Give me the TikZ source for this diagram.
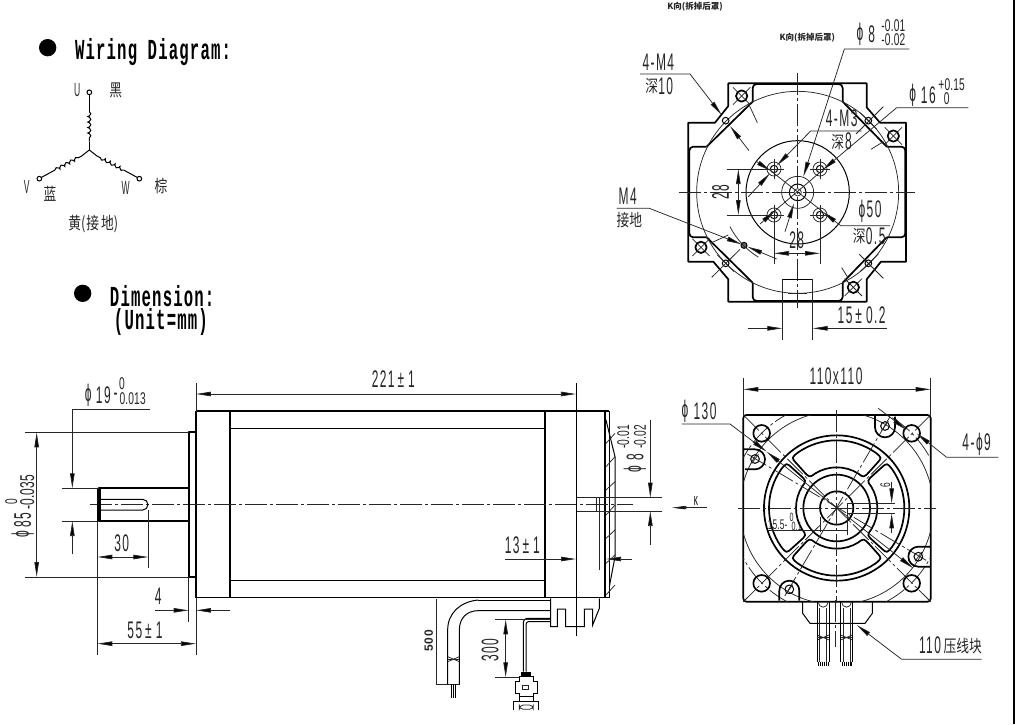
\documentclass[tikz,border=0pt]{standalone}
\usepackage{fontspec}
\usetikzlibrary{arrows.meta,decorations.pathmorphing}
\newfontfamily\cadf[FakeStretch=0.5,LetterSpace=6]{Liberation Sans}
\newfontfamily\cadn[FakeStretch=0.45,LetterSpace=4]{Liberation Sans}
\newfontfamily\cadt[FakeStretch=0.6,LetterSpace=1]{Liberation Sans}
\newfontfamily\cadb[LetterSpace=4]{Liberation Sans}
\newfontfamily\titlef[FakeStretch=0.54,LetterSpace=4]{Liberation Mono}
\newfontfamily\cjkf[FakeStretch=0.75]{Noto Sans CJK SC}
\newfontfamily\cjkw{Noto Sans CJK SC}
\newcount\lblc
\newcommand\lbl[4][]{\global\advance\lblc by 1\relax\node (lbl\the\lblc) [txt,#1] at (#2,#3) {#4};}
\newcommand\phisym{ϕ}
\tikzset{
 z/.style 2 args={shift={(#1,#2)},x=0.33333pt,y=-0.33333pt},
 txt/.style={inner sep=0pt,outer sep=0pt,text=black!85,font=\cadf\fontsize{24}{24}\selectfont},
 tM/.style={font=\cadt\fontsize{17}{17}\selectfont},
 tS/.style={font=\cadn\fontsize{19}{19}\selectfont},
 tXS/.style={font=\cadt\fontsize{14}{14}\selectfont},
 tK/.style={font=\cadn\fontsize{13}{13}\selectfont},
 tKS/.style={font=\cadt\fontsize{12}{12}\selectfont},
 tC/.style={font=\cjkf\fontsize{17}{17}\selectfont},
 tCS/.style={font=\cjkw\bfseries\fontsize{8.5}{8.5}\selectfont},
 tT/.style={anchor=west,text=black,font=\titlef\bfseries\fontsize{29}{29}\selectfont},
 bold/.style={draw=black,line width=1.7pt,line join=round},
 med/.style={draw=black,line width=1pt},
 thin0/.style={draw=black!85,line width=0.75pt},
 cen/.style={draw=black!85,line width=0.75pt,dash pattern=on 22pt off 3pt on 3pt off 3pt},
 tip/.style={draw=black!85,line width=0.75pt,-{Triangle[length=15pt,width=4.5pt,fill=black]}},
}
\begin{document}
\begin{tikzpicture}[x=1pt,y=-1pt]
\useasboundingbox (0,0) rectangle (1015,724);
\draw[line width=1.5pt] (1014,0)--(1014,724);
%% ---------- wiring
\begin{scope}[z={0}{0}]
 \fill[black] (143,143) circle[radius=26];
 \fill[black] (248,880) circle[radius=26];
 \lbl[tT]{225}{155}{Wiring Diagram:}
 \lbl[tT]{330}{888}{Dimension:}
 \lbl[tT]{342}{965}{(Unit=mm)}
 \coordinate (ctr) at (268,450);
 \coordinate (uT) at (268,277);
 \coordinate (vT) at (118,536);
 \coordinate (wT) at (418,536);
 \draw[med] (268,283)--(268,335);
 \draw[med,decorate,decoration={coil,aspect=0.5,segment length=5.5pt,amplitude=1.5pt}] (268,335)--(268,425);
 \draw[med] (268,425)--(ctr);
 \draw[med] (123,533)--(165,510);
 \draw[med,decorate,decoration={coil,aspect=0.5,segment length=5.5pt,amplitude=1.5pt}] (165,510)--(245,468);
 \draw[med] (245,468)--(ctr);
 \draw[med] (413,533)--(371,510);
 \draw[med,decorate,decoration={coil,aspect=0.5,segment length=5.5pt,amplitude=1.5pt}] (371,510)--(291,468);
 \draw[med] (291,468)--(ctr);
 \draw[med,fill=white] (uT) circle[radius=7];
 \draw[med,fill=white] (vT) circle[radius=7];
 \draw[med,fill=white] (wT) circle[radius=7];
 \lbl[tS]{232}{270}{U}
 \lbl[tC]{347}{272}{黑}
 \lbl[tS]{80}{562}{V}
 \lbl[tC]{150}{582}{蓝}
 \lbl[tS]{377}{565}{W}
 \lbl[tC]{483}{558}{棕}
 \lbl[tC]{280}{672}{黄(\kern1pt 接\kern2pt 地)}
\end{scope}
%% ---------- K view
\begin{scope}[z={600}{0}]
 \lbl[tCS]{285}{20}{K向(拆掉后罩)}
 \lbl[tCS]{622}{114}{K向(拆掉后罩)}
 % outlines
 \draw[bold] (385,318)--(385,250)--(800,250)--(800,322)--(840,368)--(918,368)--(918,785)--(843,785)--(800,838)--(800,905)--(385,905)--(385,838)--(340,785)--(265,785)--(265,368)--(345,368)--cycle;
 \draw[bold,rounded corners=4pt] (458,305)--(458,252)--(728,252)--(728,305);
 \draw[bold] (458,305)--(320,440);
 \draw[bold] (728,305)--(860,440);
 \draw[bold,rounded corners=4pt] (320,440)--(268,440)--(268,712)--(320,712);
 \draw[bold,rounded corners=4pt] (860,440)--(916,440)--(916,712)--(860,712);
 \draw[bold] (320,712)--(458,848);
 \draw[bold] (860,712)--(728,848);
 \draw[bold,rounded corners=4pt] (458,848)--(458,903)--(728,903)--(728,848);
 \draw[thin0] (593,577) circle[radius=303];
 \draw[med] (593,577) circle[radius=155];
 \draw[thin0] (593,577) circle[radius=48];
 \draw[med] (593,577) circle[radius=25];
 \draw[thin0] (593,577) circle[radius=11];
 % centre lines
 \draw[cen] (238,577)--(945,577);
 \draw[cen] (593,218)--(593,925);
 % small holes
 \foreach \hx/\hy in {522/507,660/507,522/645,660/645}{
  \draw[med] (\hx,\hy) circle[radius=11];
  \draw[thin0] (\hx,\hy) circle[radius=21];
  \draw[thin0] (\hx-30,\hy)--(\hx+30,\hy);
  \draw[thin0] (\hx,\hy-30)--(\hx,\hy+30);
 }
 % M4 holes
 \foreach \hx/\hy in {377/362,805/362,377/790,805/790}{
  \draw[med] (\hx,\hy) circle[radius=10];
 }
 \fill[black!60,draw=black,line width=1pt] (432,736) circle[radius=9];
 \draw[thin0] (390,680) arc[start angle=153,end angle=121,radius=227];
 % large holes
 \foreach \hx/\hy in {425/288,880/408,303/742,760/862}{
  \draw[bold] (\hx,\hy) circle[radius=17];
  \draw[thin0] (\hx-26,\hy+26)--(\hx+26,\hy-26);
  \draw[thin0] (\hx-26,\hy-26)--(\hx+26,\hy+26);
 }
 % ticks
 \draw[thin0] (335,832)--(420,748);
 \draw[thin0] (352,765)--(402,815);
 \draw[thin0] (778,763)--(850,835);
 \draw[thin0] (780,815)--(835,762);
 \draw[thin0] (768,402)--(850,320);
 \draw[thin0] (780,338)--(830,388);
 \draw[thin0] (445,310)--(472,368);
 \draw[thin0] (813,448)--(850,425);
 \draw[thin0] (725,803)--(745,835);
 \draw[thin0] (335,728)--(385,705);
 % keyway
 \draw[med] (547,890)--(547,838)--(638,838)--(638,890);
 \draw[thin0] (547,838)--(547,1020);
 \draw[thin0] (638,838)--(638,1020);
 \draw[thin0] (565,880)--(620,880);
 % phi8
 \draw[tip] (928,147)--(733,147)--(610,530);
 \draw[tip] (555,695)--(582,610);
 % 4-M4
 \draw[tip] (120,222)--(270,222)--(365,345);
 \draw[tip] (447,452)--(390,378);
 % 4-M3
 \draw[tip] (785,393)--(632,393)--(530,497);
 \draw[tip] (445,590)--(510,520);
 % phi16
 \draw[tip] (1105,323)--(890,323)--(668,510);
 \draw[tip] (480,672)--(525,632);
 \draw[thin0] (525,632)--(660,517);
 % phi50
 \draw[tip] (870,677)--(722,677)--(668,635);
 \draw[tip] (470,485)--(513,513);
 \draw[thin0] (513,513)--(668,635);
 % M4 ground
 \draw[tip] (50,625)--(148,625)--(425,733);
 \draw[tip] (530,777)--(442,740);
 % 28
 \draw[thin0] (380,507)--(522,507);
 \draw[thin0] (380,645)--(522,645);
 \draw[tip] (415,577)--(415,507);
 \draw[tip] (415,577)--(415,645);
 \draw[thin0] (522,645)--(522,793);
 \draw[thin0] (660,645)--(660,793);
 \draw[tip] (592,760)--(522,760);
 \draw[tip] (592,760)--(660,760);
 % 15
 \draw[tip] (445,985)--(547,985);
 \draw[tip] (860,985)--(638,985);
 % texts
 \lbl{780}{104}{\phisym}
 \lbl{815}{104}{8}
 \lbl[tM]{880}{76}{-0.01}
 \lbl[tM]{880}{119}{-0.02}
 \lbl{175}{186}{4-M4}
 \lbl[tC]{155}{258}{深}
 \lbl{197}{258}{10}
 \lbl{725}{356}{4-M3}
 \lbl[tC]{713}{425}{深}
 \lbl{745}{425}{8}
 \lbl{938}{285}{\phisym}
 \lbl{985}{285}{16}
 \lbl[tM]{1055}{253}{+0.15}
 \lbl[tM]{1040}{296}{0}
 \lbl{83}{588}{M4}
 \lbl[tC]{88}{660}{接地}
 \lbl[rotate=90]{362}{577}{28}
 \lbl{590}{720}{28}
 \lbl{810}{635}{\phisym 50}
 \lbl[tC]{778}{708}{深}
 \lbl{827}{708}{0.5}
 \lbl{785}{945}{15\kern3pt±\kern4pt 0.2}
\end{scope}
%% ---------- front view
\begin{scope}[z={660}{350}]
 \draw[bold,rounded corners=3pt] (250,195) rectangle (812,755);
 \begin{scope}
  \clip (250,195) rectangle (812,755);
  \draw[thin0] (530,474) circle[radius=290];
  \draw[cen] (530,474) circle[radius=318];
 \end{scope}
 % rings
 \draw[bold] (530,474) circle[radius=218];
 \draw[bold] (530,474) circle[radius=100];
 \draw[bold] (530,474) circle[radius=50];
 % windows
 \begin{scope}[shift={(530,474)}]
 \foreach \r in {0,90,180,270}{
  \begin{scope}[rotate=\r]
  \draw[bold]
   (55:203) arc[start angle=55,end angle=125,radius=203]
   .. controls (132:203) .. (132:180)
   -- (132:150) .. controls (132:122) .. (122:122)
   arc[start angle=122,end angle=58,radius=122]
   .. controls (48:122) .. (48:150)
   -- (48:180) .. controls (48:203) .. cycle;
  \end{scope}
 }
 \end{scope}
 % diagonal and other centre lines
 \draw[cen] (250,195)--(812,755);
 \draw[cen] (812,195)--(250,755);
 \draw[cen] (235,474)--(828,474);
 \draw[cen] (530,180)--(530,760);
 \draw[cen] (262,312)--(800,632);
 \draw[cen] (690,200)--(372,742);
 % holes
 \foreach \hx/\hy in {305/250,755/250,305/700,755/700}{
  \draw[bold,fill=none] (\hx,\hy) circle[radius=25];
 }
 % bosses
 \draw[bold] (645,198)--(645,232) arc[start angle=180,end angle=0,radius=30] -- (705,200);
 \draw[bold] (252,298)--(285,298) arc[start angle=-90,end angle=90,radius=30] -- (255,358);
 \draw[bold] (358,752)--(358,722) arc[start angle=180,end angle=360,radius=30] -- (418,752);
 \draw[bold] (810,590)--(775,590) arc[start angle=270,end angle=90,radius=30] -- (810,650);
 \foreach \hx/\hy in {675/228,285/327,775/620,388/718}{
  \draw[med] (\hx,\hy) circle[radius=13];
  \draw[thin0] (\hx-10,\hy+14)--(\hx+10,\hy-14);
 }
 % key
 \draw[thin0] (562,460)--(705,460);
 \draw[thin0] (562,460)--(562,555);
 \draw[thin0] (565,490)--(705,490);
 \draw[thin0] (482,500)--(482,545);
 \draw[thin0] (325,540)--(562,540);
 \draw[tip] (695,395)--(695,460);
 \draw[tip] (695,550)--(695,490);
 \lbl[tXS,rotate=90]{676}{405}{6}
 \lbl[tXS]{353}{523}{15.5-}
 \lbl[tKS]{395}{503}{0}
 \lbl[tKS]{410}{530}{0.1}
 % dims
 \draw[thin0] (250,85)--(250,195);
 \draw[thin0] (812,85)--(812,195);
 \draw[tip] (530,118)--(250,118);
 \draw[tip] (530,118)--(812,118);
 \lbl{528}{80}{110x110}
 \lbl{75}{183}{\phisym}
 \lbl{135}{183}{130}
 \draw[tip] (65,222)--(210,222)--(320,305);
 \draw[tip] (530,474)--(320,305);
 \draw[tip] (530,474)--(760,655);
 \lbl{950}{283}{4-\phisym 9}
 \draw[tip] (1015,322)--(860,322)--(770,250);
 \draw[tip] (655,175)--(740,240);
 \lbl{810}{885}{110}
 \lbl[tC]{908}{887}{压线块}
 \draw[tip] (965,928)--(725,928)--(590,825);
 % K arrow
 \draw[tip,-{Triangle[length=13pt,width=3pt,fill=black]}] (140,473)--(40,473);
 \lbl[tK]{108}{452}{K}
 % wire block
 \draw[med] (428,755)--(428,790)--(450,820)--(615,820)--(637,790)--(637,755);
 \draw[cen] (527,750)--(527,890);
 \foreach \cx in {472,542}{
  \draw[med] (\cx,757)--(\cx,935);
  \draw[med] (\cx+35,757)--(\cx+35,935);
  \draw[thin0] (\cx+7,775)--(\cx+7,935);
  \draw[thin0] (\cx+28,775)--(\cx+28,935);
  \draw[thin0] (\cx+3,757) arc[start angle=180,end angle=0,radius=14.5];
  \draw[thin0] (\cx,855)--(\cx+35,870);
  \draw[thin0] (\cx+35,855)--(\cx,870);
  \draw[thin0] (\cx,862)--(\cx+35,862);
  \foreach \w in {4,10,16,22,28,32}{\draw[med] (\cx+\w,935)--(\cx+\w,948);}
 }
\end{scope}
%% ---------- side view body
\draw[bold] (196,411)--(609,411);
\draw[bold] (196,597.5)--(609,597.5);
\draw[bold] (196,411)--(196,597.5);
\draw[bold] (230,411)--(230,597.5);
\draw[bold] (545,411)--(545,597.5);
\draw[bold] (605,411)--(605,597.5);
\draw[bold] (230,428.5)--(545,428.5);
\draw[bold] (230,580.5)--(545,580.5);
\draw[cen] (90,504.7)--(633,504.7);
\begin{scope}[z={0}{350}]
 % pilot, shaft
 \draw[bold] (588,247)--(566,247)--(566,681)--(588,681);
 \draw[bold] (566,415)--(297,415)--(297,513)--(566,513);
 \fill[black] (292,415) rectangle (302,513);
 \draw[med] (298,448)--(428,448) arc[start angle=-90,end angle=90,radius=16] -- (298,480);
 % phi85
 \draw[thin0] (75,247)--(566,247);
 \draw[thin0] (75,681)--(566,681);
 \draw[tip] (110,464)--(110,247);
 \draw[tip] (110,464)--(110,681);
 \lbl[rotate=90]{68}{553}{\phisym}
 \lbl[rotate=90]{68}{510}{85}
 \lbl[tM,rotate=90]{34}{455}{0}
 \lbl[tM,rotate=90,font=\cadt\fontsize{20}{20}\selectfont]{82}{427}{-0.035}
 % phi19
 \draw[tip] (450,178)--(217,178)--(217,415);
 \draw[tip] (217,612)--(217,513);
 \draw[thin0] (185,415)--(297,415);
 \draw[thin0] (185,513)--(297,513);
 \lbl{265}{135}{\phisym}
 \lbl{310}{135}{19}
 \lbl{347}{140}{-}
 \lbl[tM]{366}{102}{0}
 \lbl[tM]{398}{147}{0.013}
 % 30
 \draw[thin0] (292,513)--(292,915);
 \draw[thin0] (445,480)--(445,655);
 \draw[tip] (368,621)--(292,621);
 \draw[tip] (368,621)--(445,621);
 \lbl{365}{580}{30}
 % 4
 \draw[thin0] (566,681)--(566,815);
 \draw[thin0] (588,745)--(588,915);
 \draw[tip] (465,781)--(566,781);
 \draw[tip] (690,781)--(588,781);
 \lbl{475}{740}{4}
 % 55
 \draw[tip] (440,881)--(292,881);
 \draw[tip] (440,881)--(588,881);
 \lbl{435}{840}{55\kern3pt±\kern4pt 1}
 % 221
 \draw[thin0] (588,100)--(588,185);
 \draw[tip] (1180,132)--(588,132);
 \draw[tip] (1180,132)--(1728,132);
 \lbl{1180}{88}{221\kern3pt±\kern4pt 1}
\end{scope}
\begin{scope}[z={400}{400}]
 \draw[med] (528,-50)--(528,708);
 % rear cover
 \draw[med] (615,33)--(628,33)--(628,592)--(615,592);
 \draw[med] (618,60)--(645,170)--(645,470)--(628,560);
 \foreach \ya/\yb in {130/100,200/170,270/245,345/315,415/390,490/465,585/555}{
  \draw[thin0] (618,\ya)--(645,\yb);
 }
 \draw[thin0] (530,293)--(785,293);
 \draw[thin0] (530,333)--(785,333);
 \draw[thin0] (597,293)--(597,510);
 \draw[thin0] (590,293)--(590,333);
 % phi8
 \draw[tip] (751,60)--(751,293);
 \draw[tip] (751,435)--(751,333);
 \lbl[rotate=90]{705}{208}{\phisym}
 \lbl[rotate=90]{705}{170}{8}
 \lbl[tM,rotate=90]{670}{110}{-0.01}
 \lbl[tM,rotate=90]{720}{110}{-0.02}
 % K
 \draw[tip,-{Triangle[length=13pt,width=3pt,fill=black]}] (880,323)--(815,323);
 \lbl[tK]{888}{302}{K}
 % 13
 \lbl{367}{437}{13\kern3pt±\kern4pt 1}
 \draw[tip] (315,477)--(528,477);
 \draw[tip] (695,477)--(618,477);
 % block
 \draw[med] (452,595)--(452,680)--(472,680)--(472,627)--(497,627)--(497,680)--(553,680)--(553,627)--(578,627)--(578,675)--(598,625)--(598,595);
 % cable 500
 \draw[thin0] (108,598)--(108,853)--(180,853);
 \draw[med] (450,600)--(235,600);
 \draw[med] (235,600) .. controls (180,605) and (143,640) .. (143,690)--(143,853);
 \draw[med] (450,632)--(235,632) .. controls (200,632) and (178,655) .. (178,690)--(178,853);
 \draw[thin0] (143,770)--(178,785);
 \draw[thin0] (178,770)--(143,785);
 \draw[thin0] (143,777)--(178,777);
 \draw[med] (153,853)--(153,895);
 \draw[med] (160,853)--(160,895);
 \draw[med] (167,853)--(167,895);
 \lbl[rotate=90,font=\cadb\bfseries\fontsize{12}{12}\selectfont]{86}{722}{500}
 % cable 300
 \draw[med] (450,655)--(385,655) .. controls (375,655) and (370,660) .. (370,670)--(370,815);
 \draw[med] (450,665)--(385,665) .. controls (380,665) and (378,670) .. (378,675)--(378,815);
 \draw[thin0] (285,658)--(450,658);
 \draw[thin0] (285,832)--(360,832);
 \draw[tip] (317,745)--(317,658);
 \draw[tip] (317,745)--(317,832);
 \lbl[rotate=90]{270}{750}{300}
 % connector
 \fill[black] (362,815) rectangle (392,830);
 \draw[med] (357,830)--(400,830)--(400,845)--(412,845)--(412,880)--(400,880)--(400,888)--(357,888)--(357,880)--(345,880)--(345,845)--(357,845)--cycle;
 \draw[thin0] (368,857) rectangle (385,867);
 \draw[med] (340,930)--(340,905)--(415,905)--(415,930);
 \draw[thin0,rounded corners=4pt] (358,915) rectangle (400,928);
 \draw[med] (357,888)--(357,905);
 \draw[med] (400,888)--(400,905);
\end{scope}
\end{tikzpicture}
\end{document}
